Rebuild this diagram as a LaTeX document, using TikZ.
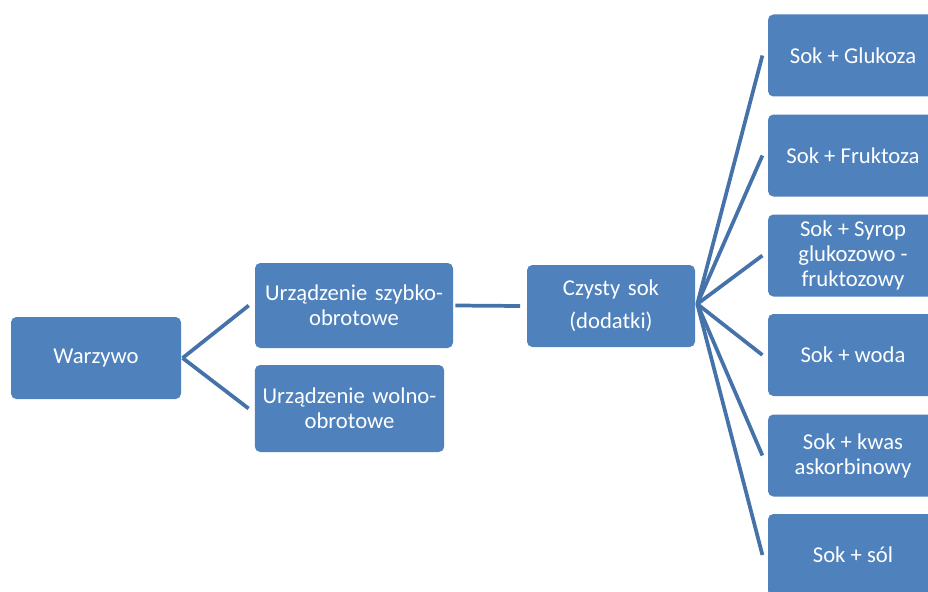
\documentclass[tikz,border=0pt]{standalone}
\usepackage{fontspec}
\setmainfont{Carlito}
\usetikzlibrary{positioning}
\definecolor{boxblue}{RGB}{79,129,189}
\definecolor{lineblue}{RGB}{70,114,170}

\begin{document}
\begin{tikzpicture}[
    x=0.75pt, y=-0.75pt,
    box/.style={rectangle, fill=boxblue, rounded corners=4pt,
                text=white, align=center, inner sep=1pt,
                minimum height=61.5pt,
                font=\fontsize{17}{18.8}\selectfont},
    link/.style={draw=lineblue, line width=2.8pt}
]
  \clip (0,0) rectangle (928,592);

  % left part
  \node[box, minimum width=127.5pt] (warzywo) at (96,358) {Warzywo};
  \node[box, minimum width=148.5pt, minimum height=63.75pt, text width=146pt]
      (szybko) at (354,305.5) {Urządzenie szybko-\\obrotowe};
  \node[box, minimum width=141.75pt, minimum height=65.25pt, text width=140pt]
      (wolno) at (349.5,408.5) {Urządzenie wolno-\\obrotowe};

  % juice
  \node[box, minimum width=126pt, text width=120pt] (czysty) at (611,306)
      {Czysty sok\\[6pt](dodatki)};

  % additives
  \node[box, minimum width=127.5pt] (glukoza) at (853,55.5) {Sok + Glukoza};
  \node[box, minimum width=127.5pt] (fruktoza) at (853,155.5) {Sok + Fruktoza};
  \node[box, minimum width=127.5pt] (syrop) at (853,255.5)
      {Sok + Syrop\\glukozowo -\\fruktozowy};
  \node[box, minimum width=127.5pt] (woda) at (853,355) {Sok + woda};
  \node[box, minimum width=127.5pt] (kwas) at (853,455.5)
      {Sok + kwas\\askorbinowy};
  \node[box, minimum width=127.5pt] (sol) at (853,555) {Sok + sól};

  % connectors
  \draw[link] ([xshift=1pt]warzywo.east) -- ([xshift=-4.5pt]szybko.west);
  \draw[link] ([xshift=1pt]warzywo.east) -- ([xshift=-4.5pt]wolno.west);
  \draw[link] ([xshift=1.5pt]szybko.east) -- ([xshift=-5pt]czysty.west);
  \foreach \n in {glukoza, fruktoza, syrop, woda, kwas, sol}
    \draw[link] ([xshift=1.5pt,yshift=1.5pt]czysty.east) -- ([xshift=-4pt]\n.west);
\end{tikzpicture}
\end{document}
